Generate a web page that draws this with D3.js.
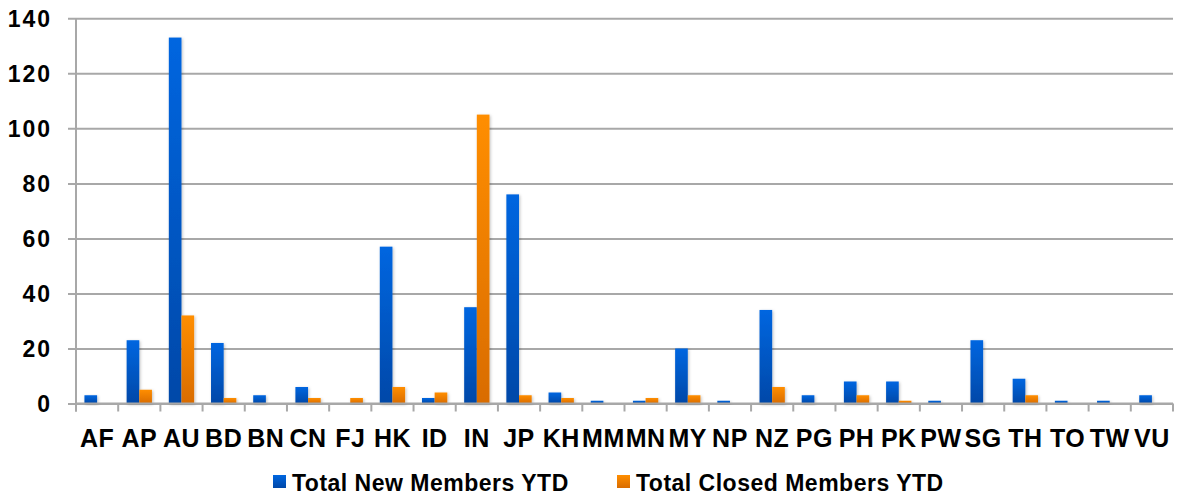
<!DOCTYPE html>
<html><head><meta charset="utf-8">
<script src="https://cdn.jsdelivr.net/npm/d3@7"></script>
<style>
html,body{margin:0;padding:0;background:#fff;}
svg{display:block;font-family:"Liberation Sans",Arial,sans-serif;}
</style></head>
<body><svg id="chart" width="1178" height="497"></svg>
<script>
const categories = ["AF","AP","AU","BD","BN","CN","FJ","HK","ID","IN","JP","KH","MM","MN","MY","NP","NZ","PG","PH","PK","PW","SG","TH","TO","TW","VU"];
const newMembers = [3,23,133,22,3,6,0,57,2,35,76,4,1,1,20,1,34,3,8,8,1,23,9,1,1,3];
const closedMembers = [0,5,32,2,0,2,2,6,4,105,3,2,0,2,3,0,6,0,3,1,0,0,3,0,0,0];
const seriesNames = ["Total New Members YTD","Total Closed Members YTD"];
const yTicks = [0,20,40,60,80,100,120,140];

const svg = d3.select("#chart");
const m = {left:76, right:1173, top:18.3, bottom:403.5};

const x = d3.scaleBand().domain(categories).range([m.left, m.right]).padding(0);
const y = d3.scaleLinear().domain([0,140]).range([m.bottom, m.top]);

const defs = svg.append("defs");
const gB = defs.append("linearGradient").attr("id","gBlue").attr("x1",0).attr("y1",0).attr("x2",0).attr("y2",1);
gB.append("stop").attr("offset","0%").attr("stop-color","#0066e0");
gB.append("stop").attr("offset","100%").attr("stop-color","#0048a8");
const gO = defs.append("linearGradient").attr("id","gOrange").attr("x1",0).attr("y1",0).attr("x2",0).attr("y2",1);
gO.append("stop").attr("offset","0%").attr("stop-color","#ff8e00");
gO.append("stop").attr("offset","100%").attr("stop-color","#d96c00");
const sh = defs.append("filter").attr("id","shadow").attr("x","-50%").attr("y","-10%").attr("width","200%").attr("height","130%");
sh.append("feDropShadow").attr("dx",1).attr("dy",1).attr("stdDeviation",1.5).attr("flood-color","#000").attr("flood-opacity",0.25);

// gridlines
const yAxis = d3.axisLeft(y).tickValues(yTicks).tickSize(-(m.right-m.left)).tickPadding(24).tickFormat(d3.format("d"));
const gy = svg.append("g").attr("transform",`translate(${m.left},0)`).call(yAxis);
gy.select(".domain").remove();
gy.selectAll(".tick line").attr("stroke","#a8a8a8").attr("stroke-width",2).attr("x1",-8);
gy.selectAll(".tick text").attr("fill","#000").attr("font-size",23).attr("font-weight","bold")
  .attr("letter-spacing","2px")
  .attr("font-family","'Liberation Sans',Arial,sans-serif").attr("dy","0.36em");

// left axis line
svg.append("line").attr("x1",m.left).attr("x2",m.left).attr("y1",m.top).attr("y2",m.bottom+8)
  .attr("stroke","#a8a8a8").attr("stroke-width",2);

// bars
const bw = x.bandwidth()*0.30;
const off = x.bandwidth()*0.2;
const gBars = svg.append("g");
gBars.selectAll("rect.new").data(categories).join("rect")
  .attr("x", (d)=>x(d)+off).attr("width",bw)
  .attr("y",(d,i)=>y(newMembers[i])).attr("height",(d,i)=>y(0)-y(newMembers[i]))
  .attr("fill","url(#gBlue)").attr("filter","url(#shadow)");
gBars.selectAll("rect.closed").data(categories).join("rect")
  .attr("x", (d)=>x(d)+off+bw).attr("width",bw)
  .attr("y",(d,i)=>y(closedMembers[i])).attr("height",(d,i)=>y(0)-y(closedMembers[i]))
  .attr("fill","url(#gOrange)").attr("filter","url(#shadow)");

// x axis baseline and ticks
svg.append("line").attr("x1",m.left).attr("x2",m.right).attr("y1",y(0)).attr("y2",y(0))
  .attr("stroke","#a8a8a8").attr("stroke-width",2);
const bounds = categories.map(c=>x(c)).concat([m.right]);
svg.append("g").selectAll("line").data(bounds).join("line")
  .attr("x1",d=>d).attr("x2",d=>d).attr("y1",y(0)).attr("y2",y(0)+8)
  .attr("stroke","#a8a8a8").attr("stroke-width",2);

// x labels
svg.append("g").selectAll("text").data(categories).join("text")
  .attr("x",d=>x(d)+x.bandwidth()/2).attr("y",447)
  .attr("text-anchor","middle").attr("font-size",25).attr("font-weight","bold").attr("fill","#000")
  .attr("letter-spacing","0.5px")
  .text(d=>d);

// legend
const leg = [{name:seriesNames[0], fill:"url(#gBlue)", x:273},{name:seriesNames[1], fill:"url(#gOrange)", x:617}];
const lg = svg.append("g").selectAll("g").data(leg).join("g").attr("transform",d=>`translate(${d.x},0)`);
lg.append("rect").attr("x",0).attr("y",475).attr("width",13).attr("height",13).attr("fill",d=>d.fill);
lg.append("text").attr("x",19).attr("y",491).attr("font-size",23).attr("font-weight","bold").attr("fill","#000")
  .attr("letter-spacing","0.5px").text(d=>d.name);
</script></body></html>
